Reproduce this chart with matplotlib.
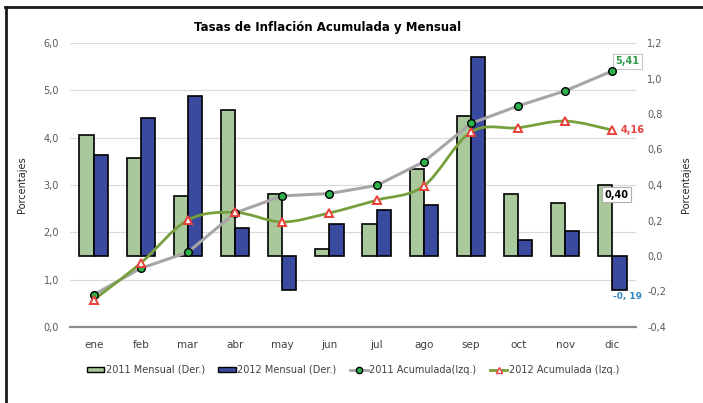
import numpy as np
import matplotlib
matplotlib.use("Agg")
import matplotlib.pyplot as plt
from matplotlib.path import Path
from matplotlib.patches import PathPatch, Patch
from matplotlib.lines import Line2D

# Datos (Ecuador, inflación)
meses = ["ene", "feb", "mar", "abr", "may", "jun", "jul", "ago", "sep", "oct", "nov", "dic"]
mensual_2011 = [0.68, 0.55, 0.34, 0.82, 0.35, 0.04, 0.18, 0.49, 0.79, 0.35, 0.30, 0.40]
mensual_2012 = [0.57, 0.78, 0.90, 0.16, -0.19, 0.18, 0.26, 0.29, 1.12, 0.09, 0.14, -0.19]
acum_2011 = [0.68, 1.24, 1.58, 2.41, 2.77, 2.82, 2.99, 3.49, 4.30, 4.67, 4.99, 5.41]
acum_2012 = [0.57, 1.35, 2.26, 2.42, 2.22, 2.41, 2.68, 2.98, 4.12, 4.21, 4.35, 4.16]
ticks_izq = [0, 1, 2, 3, 4, 5, 6]
ticks_der = [-0.4, -0.2, 0.0, 0.2, 0.4, 0.6, 0.8, 1.0, 1.2]

c_verde = "#A9C89B"
c_azul = "#3A4A9E"
c_gris = "#A6A6A6"
c_oliva = "#77A03C"
c_txt = "#595959"


def coma(v, fmt="{:.1f}"):
    return fmt.format(v).replace(".", ",")


def curva_suave(x, y):
    # Catmull-Rom -> Bezier, como el suavizado de Excel
    x = np.asarray(x, float)
    y = np.asarray(y, float)
    p = np.column_stack([x, y])
    verts = [p[0]]
    codes = [Path.MOVETO]
    n = len(p)
    for i in range(n - 1):
        p0 = p[i - 1] if i > 0 else p[i]
        p1 = p[i]
        p2 = p[i + 1]
        p3 = p[i + 2] if i + 2 < n else p[i + 1]
        c1 = p1 + (p2 - p0) / 6.0
        c2 = p2 - (p3 - p1) / 6.0
        verts += [c1, c2, p2]
        codes += [Path.CURVE4] * 3
    return Path(verts, codes)


fig = plt.figure(figsize=(7.03, 4.03), dpi=100)
pos = [70 / 703, 1 - 327 / 403, (636 - 70) / 703, (327 - 43) / 403]
x = np.arange(len(meses))

# eje de fondo: cuadrícula y escala izquierda
ax = fig.add_axes(pos)
ax.set_xlim(-0.5, 11.5)
ax.set_ylim(0, 6)
ax.set_yticks(ticks_izq)
ax.set_yticklabels([coma(t) for t in ticks_izq])
ax.set_xticks(x)
ax.set_xticklabels(meses)
ax.grid(axis="y", color="#D9D9D9", linewidth=0.8)
ax.set_axisbelow(True)
ax.tick_params(length=0, labelsize=7, colors=c_txt, pad=8)
ax.tick_params(axis="x", labelsize=7.5, colors="#404040", pad=9)
for s in ["left", "right", "top"]:
    ax.spines[s].set_visible(False)
ax.spines["bottom"].set_color("#8C8C8C")
ax.spines["bottom"].set_linewidth(1.6)
ax.set_ylabel("Porcentajes", fontsize=7, color="#262626", labelpad=12)

# barras: escala derecha
axb = ax.twinx()
axb.set_ylim(-0.4, 1.2)
axb.set_yticks(ticks_der)
axb.set_yticklabels([coma(t) for t in ticks_der])
axb.tick_params(length=0, labelsize=7, colors=c_txt, pad=8)
for s in axb.spines.values():
    s.set_visible(False)
axb.set_ylabel("Porcentajes", fontsize=7, color="#262626", labelpad=11)
w = 0.3
axb.bar(x - w / 2, mensual_2011, w, color=c_verde, edgecolor="black", linewidth=1.2)
axb.bar(x + w / 2, mensual_2012, w, color=c_azul, edgecolor="black", linewidth=1.2)

# líneas: escala izquierda, encima de todo
axl = ax.twinx()
axl.set_ylim(0, 6)
axl.set_yticks([])
for s in axl.spines.values():
    s.set_visible(False)
axl.plot(x, acum_2011, color=c_gris, linewidth=2.2, zorder=3)
axl.plot(x, acum_2011, "o", markersize=5.5, markerfacecolor="#2DB34A",
         markeredgecolor="black", markeredgewidth=1.0, zorder=5)
axl.add_patch(PathPatch(curva_suave(x, acum_2012), facecolor="none",
                        edgecolor=c_oliva, linewidth=2.0, zorder=4))
axl.plot(x, acum_2012, "^", markersize=6, markerfacecolor="white",
         markeredgecolor="#E8403A", markeredgewidth=1.4, zorder=6)

# etiquetas de datos
axl.annotate(coma(acum_2011[-1], "{:.2f}"), (x[-1], acum_2011[-1]), xytext=(11, 7),
             textcoords="offset points", ha="center", va="center", fontsize=7,
             fontweight="bold", color="#2E9E4A",
             bbox=dict(boxstyle="square,pad=0.25", facecolor="white", edgecolor="#C8C8C8", linewidth=0.8))
axl.annotate(coma(acum_2012[-1], "{:.2f}"), (x[-1], acum_2012[-1]), xytext=(6, 0),
             textcoords="offset points", ha="left", va="center", fontsize=7,
             fontweight="bold", color="#E8403A")
axb.annotate(coma(mensual_2011[-1], "{:.2f}"), (x[-1] - w / 2, mensual_2011[-1]), xytext=(8, -7),
             textcoords="offset points", ha="center", va="center", fontsize=7,
             fontweight="bold", color="black",
             bbox=dict(boxstyle="square,pad=0.25", facecolor="white", edgecolor="#B0B0B0", linewidth=0.8))
axb.annotate(coma(mensual_2012[-1], "{:.2f}").replace(",", ", "), (x[-1] + w / 2, mensual_2012[-1]),
             xytext=(6, -5), textcoords="offset points", ha="center", va="center",
             fontsize=6.5, fontweight="bold", color="#2E86C1")

fig.text(328 / 703, 1 - 27 / 403, "Tasas de Inflación Acumulada y Mensual",
         ha="center", va="center", fontsize=8.5, fontweight="bold", color="black")

handles = [
    Patch(facecolor=c_verde, edgecolor="black", linewidth=1.0, label="2011 Mensual (Der.)"),
    Patch(facecolor=c_azul, edgecolor="black", linewidth=1.0, label="2012 Mensual (Der.)"),
    Line2D([], [], color=c_gris, linewidth=2, marker="o", markersize=4.5,
           markerfacecolor="#2DB34A", markeredgecolor="black", label="2011 Acumulada(Izq.)"),
    Line2D([], [], color=c_oliva, linewidth=2, marker="^", markersize=5,
           markerfacecolor="white", markeredgecolor="#E8403A", label="2012 Acumulada (Izq.)"),
]
leg = fig.legend(handles=handles, loc="center", bbox_to_anchor=(353 / 703, 1 - 370 / 403),
                 ncol=4, frameon=False, fontsize=7, handlelength=1.8, handleheight=0.45,
                 handletextpad=0.15, columnspacing=1.4)
for t in leg.get_texts():
    t.set_color("#404040")

# marco parcial
fig.add_artist(Line2D([5 / 703, 1], [1 - 6.5 / 403, 1 - 6.5 / 403], color="#1A1A1A", linewidth=2.0))
fig.add_artist(Line2D([5.5 / 703, 5.5 / 703], [0, 1 - 6.5 / 403], color="#1A1A1A", linewidth=2.0))

fig.savefig("out.png", dpi=100, facecolor="white")
